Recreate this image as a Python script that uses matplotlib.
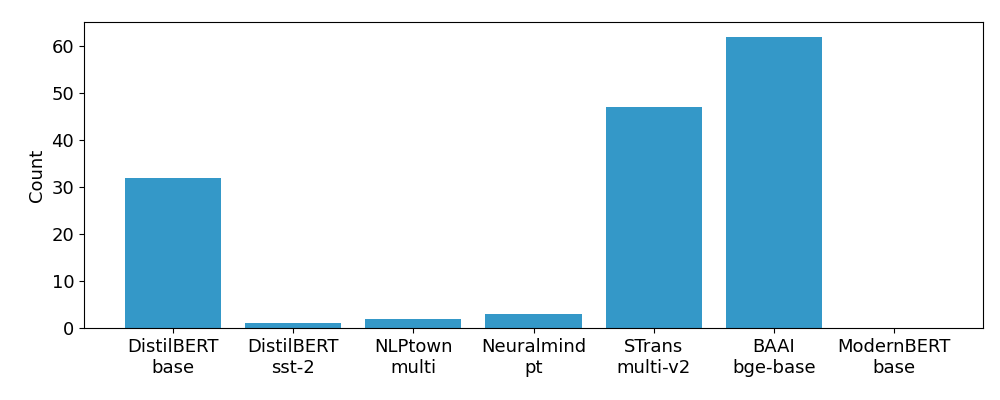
import matplotlib
matplotlib.use('agg')
import matplotlib.pyplot as plt

models = ["DistilBERT\nbase", "DistilBERT\nsst-2", "NLPtown\nmulti", "Neuralmind\npt",
          "STrans\nmulti-v2", "BAAI\nbge-base", "ModernBERT\nbase"]
counts = [32, 1, 2, 3, 47, 62, 0]

plt.rcParams['font.size'] = 13

fig, ax = plt.subplots(figsize=(10, 4), dpi=100)
ax.bar(range(len(models)), counts, color='#3498c8', width=0.8)
ax.set_xticks(range(len(models)))
ax.set_xticklabels(models)
ax.set_ylabel('Count')
fig.subplots_adjust(left=0.084, right=0.983, top=0.945, bottom=0.18)

plt.savefig('out.png')
